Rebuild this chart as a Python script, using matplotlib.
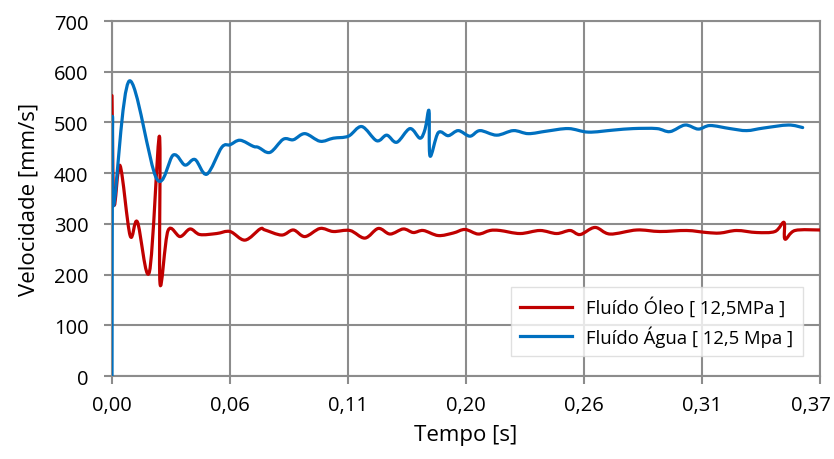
import numpy as np
import matplotlib
matplotlib.use("Agg")
import matplotlib.pyplot as plt
from matplotlib.path import Path
from matplotlib.patches import PathPatch
from matplotlib.lines import Line2D
import matplotlib.transforms as mtransforms

# -----------------------------
# Data (x = sample index, 0..360)
# -----------------------------
oleo_x = [0, 1.0, 4.1, 9.2, 12.9, 19.0, 24.1, 24.4, 28.5, 34.6, 39.7, 44.7, 53.2, 60,
          67.6, 75.3, 77.8, 86.3, 92.2, 98.1, 105.8, 112.5, 121, 128.6, 135.4, 141.4,
          148.1, 153.2, 158.3, 165.9, 173.5, 179.5, 186.2, 192.2, 197.3, 207.5, 217.6,
          226.1, 232.9, 238, 245.6, 253.2, 266.8, 278.6, 292.2, 302.4, 309.2, 317.6,
          327.8, 337.1, 341.7, 342.2, 347.3, 360]
oleo_v = [553, 340, 415, 277, 304, 205, 473, 183, 287, 275, 290, 279, 281, 285,
          268, 290, 288, 278, 288, 275, 291, 285, 287, 272, 291, 280,
          290, 283, 287, 277, 282, 289, 280, 287, 287, 281, 287,
          281, 287, 279, 293, 280, 288, 285, 287, 283, 282, 287,
          283, 285, 303, 270, 287, 288]

agua_x = [0, 0.3, 0.8, 8.8, 22.7, 31.2, 37.1, 42.2, 48.2, 55.8, 60, 65.1, 71.8, 74.4,
          80.3, 87.1, 92.2, 98.1, 105.8, 112.5, 120.2, 127, 134.6, 139.7, 144.8, 151.5,
          156.6, 159.2, 161.2, 161.7, 165.9, 171, 176.1, 182, 187.1, 195.6, 204.1,
          211.7, 221.1, 232.1, 242.2, 254.9, 265.1, 277, 283.7, 291.4, 298.1, 304.1,
          314.2, 322.7, 331.2, 343.9, 351.2]
agua_v = [0, 507, 336, 582, 389, 436, 416, 427, 398, 451, 456, 465, 453, 451,
          441, 467, 466, 478, 463, 469, 473, 492, 464, 475, 461, 488,
          469, 487, 523, 434, 480, 474, 484, 473, 484, 475, 484,
          478, 483, 488, 481, 485, 488, 488, 482, 495, 487, 494,
          488, 484, 489, 495, 490]

tick_pos = [0, 60, 120, 180, 240, 300, 360]
tick_labels = ["0,00", "0,06", "0,11", "0,20", "0,26", "0,31", "0,37"]


# smoothed line like Excel (cubic Bezier segments through the points)
def smooth_path(xs, ys):
    p = np.column_stack([xs, ys]).astype(float)
    verts = [p[0]]
    codes = [Path.MOVETO]
    n = len(p)
    for i in range(n - 1):
        p0 = p[i - 1] if i > 0 else p[i]
        p1 = p[i]
        p2 = p[i + 1]
        p3 = p[i + 2] if i + 2 < n else p[i + 1]
        c1 = p1 + (p2 - p0) / 6.0
        c2 = p2 - (p3 - p1) / 6.0
        verts += [c1, c2, p2]
        codes += [Path.CURVE4] * 3
    return Path(verts, codes)


# -----------------------------
# Plot
# -----------------------------
plt.rcParams["font.family"] = ["Open Sans", "DejaVu Sans"]

fig = plt.figure(figsize=(8.34, 4.6), dpi=100)
ax = fig.add_axes([0.1343, 0.1804, 0.9832 - 0.1343, 0.952 - 0.1804])

grid_color = "#8c8c8c"
red = "#C00000"
blue = "#0070C0"

for xs, ys, c, z in [(oleo_x, oleo_v, red, 3), (agua_x, agua_v, blue, 4)]:
    patch = PathPatch(smooth_path(xs, ys), facecolor="none", edgecolor=c,
                      lw=2.3, joinstyle="round", capstyle="round", zorder=z)
    ax.add_patch(patch)

ax.set_xlim(0, 360)
ax.set_ylim(0, 700)
ax.set_xticks(tick_pos)
ax.set_xticklabels(tick_labels)
ax.set_yticks(np.arange(0, 701, 100))

ax.grid(True, color=grid_color, lw=1.5)
ax.set_axisbelow(True)
for s in ax.spines.values():
    s.set_color(grid_color)
    s.set_linewidth(1.5)

ax.tick_params(axis="both", colors=grid_color, width=1.5, length=6,
               labelcolor="black", labelsize=14.5)
ax.tick_params(axis="x", pad=8)
ax.tick_params(axis="y", pad=11)

# last x label is pulled inside the figure, as in the original
last = ax.get_xticklabels()[-1]
last.set_transform(last.get_transform() +
                   mtransforms.ScaledTranslation(-9 / 100, 0, fig.dpi_scale_trans))

ax.set_xlabel("Tempo [s]", fontsize=16, labelpad=6)
ax.set_ylabel("Velocidade [mm/s]", fontsize=16, labelpad=10)

handles = [Line2D([], [], color=red, lw=2.3), Line2D([], [], color=blue, lw=2.3)]
labels = ["Fluído Óleo [ 12,5MPa ]", "Fluído Água [ 12,5 Mpa ]"]
leg = ax.legend(handles, labels, loc="lower right", bbox_to_anchor=(0.9755, 0.056),
                borderaxespad=0, fontsize=13.3, frameon=True, fancybox=False,
                edgecolor="#d9d9d9", handlelength=2.8, borderpad=0.5,
                labelspacing=0.45)
leg.get_frame().set_linewidth(1.0)

plt.savefig("out.png", dpi=100)
